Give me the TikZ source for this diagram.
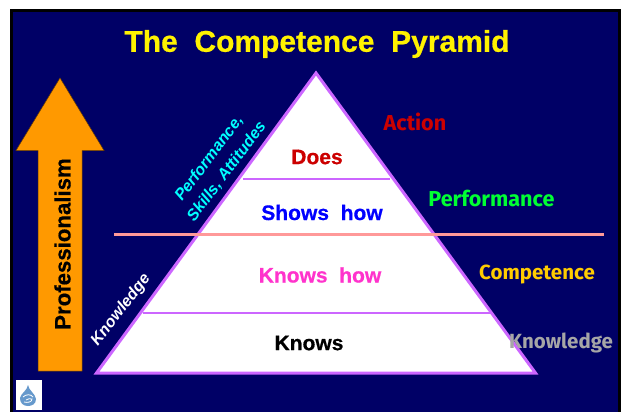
\documentclass[tikz,border=0pt]{standalone}
\usepackage{fontspec}
\setmainfont{Liberation Sans}[BoldFeatures={FakeBold=0.6}]
\newfontfamily\comicfont{Fira Sans}
\definecolor{navybg}{HTML}{000066}
\definecolor{lilac}{HTML}{CC66FF}
\definecolor{rosel}{HTML}{FF9999}
\definecolor{orangea}{HTML}{FF9900}
\definecolor{darkred}{HTML}{CC0000}
\definecolor{pinkt}{HTML}{FF33CC}
\definecolor{aqua}{HTML}{00FFFF}
\definecolor{gold}{HTML}{FFCC00}
\definecolor{greyk}{HTML}{A6A6A6}
\definecolor{greent}{HTML}{00FF33}
\definecolor{logob}{HTML}{6699CC}
\tikzset{
  level/.style={font=\fontsize{21}{23}\selectfont\bfseries,inner sep=0pt,anchor=center},
  comic/.style={font=\comicfont\fontsize{20.5}{23}\selectfont\bfseries,inner sep=0pt,anchor=center},
  comicbig/.style={font=\comicfont\fontsize{21.6}{23}\selectfont\bfseries,inner sep=0pt,anchor=center},
  sideital/.style={font=\fontsize{16}{22}\selectfont\bfseries\itshape,inner sep=0pt,anchor=center,align=center},
  divider/.style={lilac,line width=1.6pt},
}
\begin{document}
\begin{tikzpicture}[x=1pt,y=-1pt]
\useasboundingbox (0,0) rectangle (623,412);
\fill[white] (0,0) rectangle (623,412);
\fill[black] (10,9) rectangle (621,412);
\fill[navybg] (13,12) rectangle (618,412);
% arrow
\draw[fill=orangea,draw=black!60!orangea,line width=0.5pt]
  (60,78) -- (104,150.5) -- (82,150.5) -- (82,371) -- (38,371) -- (38,150.5) -- (16,150.5) -- cycle;
\node[rotate=90,font=\fontsize{22.2}{24}\selectfont\bfseries,inner sep=0pt,text=black] (prof) at (62.5,244) {Professionalism};
% pyramid
\coordinate (apex) at (316,73);
\coordinate (bl) at (96.5,373);
\coordinate (br) at (535.5,373);
\filldraw[fill=white,draw=lilac,line width=3pt,miter limit=10] (apex) -- (bl) -- (br) -- cycle;
\coordinate (a1) at (243,179); \coordinate (a2) at (390,179);
\coordinate (c1) at (143,313); \coordinate (c2) at (491,313);
\coordinate (b1) at (114,234.5); \coordinate (b2) at (604,234.5);
\draw[divider] (a1) -- (a2);
\draw[divider] (c1) -- (c2);
\draw[rosel,line width=2.4pt] (b1) -- (b2);
% title
\node[inner sep=0pt,text=yellow,font=\fontsize{30}{32}\selectfont\bfseries] (title) at (317,44) {The\ \ Competence\ \ Pyramid};
% levels
\node[level,text=darkred] (does) at (317,157) {Does};
\node[level,text=blue] (shows) at (322,212.5) {Shows\ \ how};
\node[level,text=pinkt] (khow) at (320,275) {Knows\ \ how};
\node[level,text=black] (knows) at (309,343) {Knows};
% right labels
\node[comicbig,text=darkred] (action) at (415,122) {Action};
\node[comicbig,text=greent] (perf) at (491.5,198) {Performance};
\node[comic,text=gold] (comp) at (537,274.5) {Competence};
\node[comic,text=greyk] (know) at (561,342.5) {Knowledge};
% slanted labels
\node[sideital,text=aqua,rotate=53] (psa) at (218,165) {Performance,\\Skills, Attitudes};
\node[sideital,text=white,rotate=52] (kn) at (121,310) {Knowledge};
% logo
\fill[white] (16,380) rectangle (42,410);
\fill[logob] (28,385) .. controls (29,391) and (35,393) .. (36,399) .. controls (36,404) and (32,406) .. (28,406) .. controls (23,406) and (20,403) .. (20,398) .. controls (21,393) and (27,391) .. (28,385) -- cycle;
\draw[white,line width=0.8pt] (23,397) .. controls (26,394) and (31,394) .. (33,397);
\draw[white,line width=0.8pt] (24,402) .. controls (28,403) and (32,402) .. (32,399) .. controls (30,398) and (28,399) .. (26,400);
\end{tikzpicture}
\end{document}
